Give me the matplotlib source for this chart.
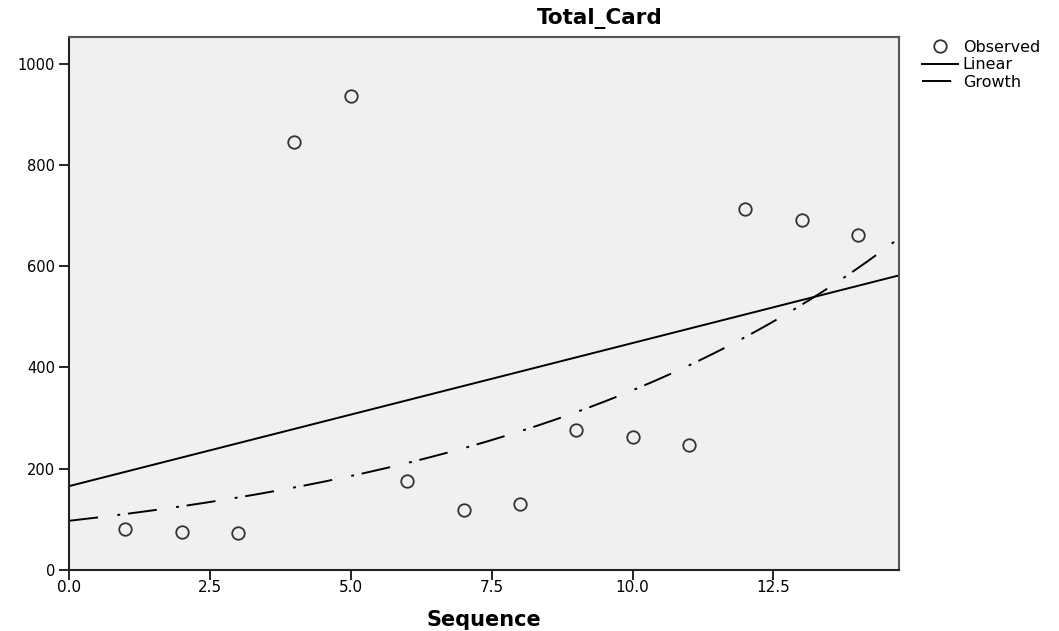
import numpy as np
import matplotlib
matplotlib.use("Agg")
import matplotlib.pyplot as plt

plt.rcParams['font.family'] = ['DejaVu Sans']

# valores observados (lectura del grafico)
secuencia = [1, 2, 3, 4, 5, 6, 7, 8, 9, 10, 11, 12, 13, 14]
total_card = [80, 74, 72, 846, 936, 176, 118, 129, 276, 262, 246, 713, 691, 662]
ticks_x = [0.0, 2.5, 5.0, 7.5, 10.0, 12.5]
ticks_y = [0, 200, 400, 600, 800, 1000]

x = np.array(secuencia, dtype=float)
y = np.array(total_card, dtype=float)

# ajustes lineal y de crecimiento (ln y = b0 + b1*x)
b_lin = np.polyfit(x, y, 1)
b_gro = np.polyfit(x, np.log(y), 1)
xmax = 14.73
xs = np.linspace(0, xmax, 300)

fig = plt.figure(figsize=(10.59, 6.31), dpi=100)
ax = fig.add_axes([0.0652, 0.0971, 0.7838, 0.8438])
ax.set_facecolor("#f0f0f0")

ax.plot(x, y, "o", ms=9, mfc="none", mec="#333333", mew=1.3, label="Observed")
ax.plot(xs, np.polyval(b_lin, xs), color="black", lw=1.4, label="Linear")
ax.plot(xs, np.exp(np.polyval(b_gro, xs)), color="black", lw=1.4,
        linestyle=(0, (15, 10, 1.5, 4)), label="Growth")

ax.set_xlim(0, xmax)
ax.set_ylim(0, 1052)
ax.set_xticks(ticks_x)
ax.set_xticklabels(["%.1f" % t for t in ticks_x])
ax.set_yticks(ticks_y)
ax.tick_params(direction="out", length=7, width=1.2, pad=3)
ax.tick_params(axis="y", labelsize=10.5)
ax.tick_params(axis="x", labelsize=11, pad=0.5)
for s in ax.spines.values():
    s.set_linewidth(1.5)
    s.set_color("#222222")
ax.spines["top"].set_color("#555555")
ax.spines["right"].set_color("#555555")

ax.set_xlabel("Sequence", fontsize=15, fontweight="bold", labelpad=11)
fig.text(0.566, 0.971, "Total_Card", fontsize=15.5, fontweight="bold",
         ha="center", va="center")

ax.legend(loc="upper left", bbox_to_anchor=(0.8706, 0.937),
          bbox_transform=fig.transFigure, frameon=False, fontsize=11.5,
          handlelength=2.25, handletextpad=0.3, labelspacing=0.15,
          borderaxespad=0, borderpad=0)

fig.savefig("out.png", dpi=100)
